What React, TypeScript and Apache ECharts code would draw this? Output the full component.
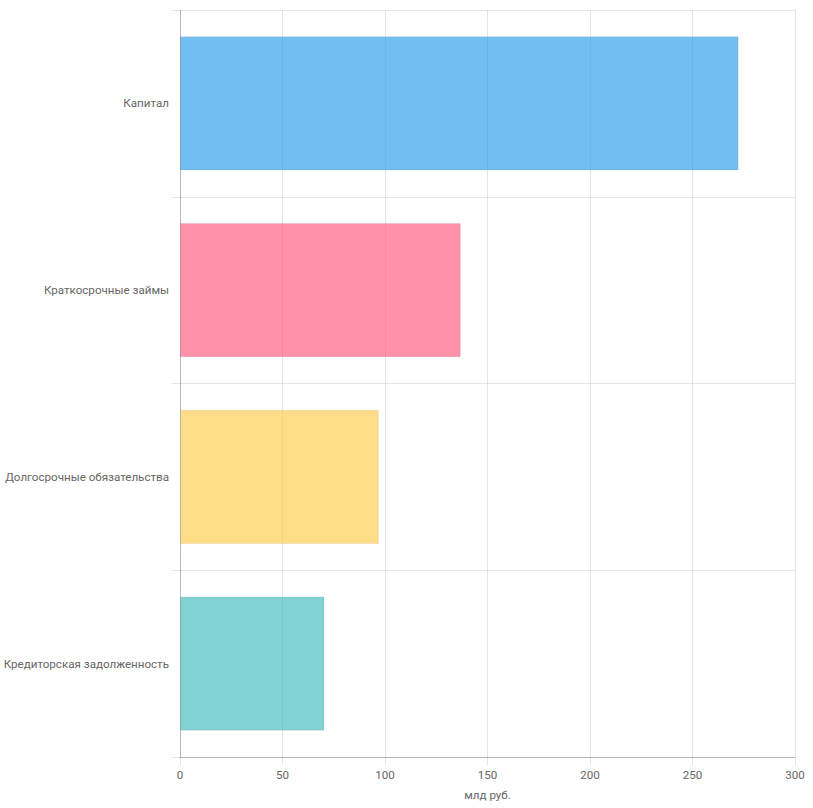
import React, { useEffect, useRef } from "react";
import * as echarts from "echarts";

const categories = [
  "Капитал",
  "Краткосрочные займы",
  "Долгосрочные обязательства",
  "Кредиторская задолженность",
];
const values = [272.5, 137, 97, 70.5];
const barColors = [
  "rgba(54,162,235,0.7)",
  "rgba(255,99,132,0.7)",
  "rgba(255,205,86,0.7)",
  "rgba(75,192,192,0.7)",
];
const xTicks = { min: 0, max: 300, interval: 50 };
const xName = "млд руб.";

export default function App() {
  const ref = useRef<HTMLDivElement>(null);
  useEffect(() => {
    if (!ref.current) return;
    const chart = echarts.init(ref.current, undefined, { renderer: "svg" });
    const font = "Roboto, 'Liberation Sans', Arial, sans-serif";
    const fs = 11.6;
    chart.setOption({
      animation: false,
      grid: {
        left: 180,
        right: 18,
        top: 10,
        bottom: 51,
        containLabel: false,
        outerBoundsMode: "none",
      },
      xAxis: {
        type: "value",
        min: xTicks.min,
        max: xTicks.max,
        interval: xTicks.interval,
        name: xName,
        nameLocation: "middle",
        nameGap: 32,
        nameTextStyle: { color: "#666", fontSize: fs, fontFamily: font },
        axisLine: { show: true, lineStyle: { color: "rgba(0,0,0,0.2)" } },
        axisTick: { show: true, length: 8, lineStyle: { color: "rgba(0,0,0,0.1)" } },
        axisLabel: { color: "#666", fontSize: fs, fontFamily: font, margin: 12 },
        splitLine: { show: true, lineStyle: { color: "rgba(0,0,0,0.1)" } },
      },
      yAxis: {
        type: "category",
        data: categories,
        inverse: true,
        axisLine: { show: true, lineStyle: { color: "rgba(0,0,0,0.2)" } },
        axisTick: { show: true, length: 8, lineStyle: { color: "rgba(0,0,0,0.1)" } },
        axisLabel: { color: "#666", fontSize: fs, fontFamily: font, margin: 11 },
        splitLine: { show: true, lineStyle: { color: "rgba(0,0,0,0.1)" } },
      },
      series: [
        {
          type: "bar",
          barCategoryGap: "28%",
          data: values.map((v, i) => ({
            value: v,
            itemStyle: {
              color: barColors[i],
              borderColor: "rgba(0,0,0,0.06)",
              borderWidth: 1,
            },
          })),
        },
      ],
    });
    return () => chart.dispose();
  }, []);
  return (
    <div
      ref={ref}
      style={{ position: "absolute", left: 0, top: 0, width: 813, height: 808 }}
    />
  );
}
